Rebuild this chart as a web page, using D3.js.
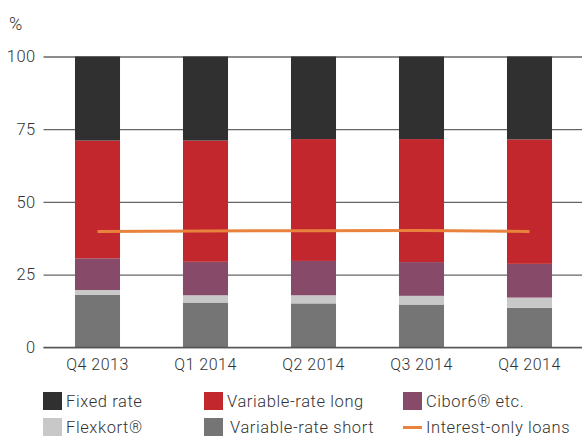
<!DOCTYPE html>
<html>
<head>
<meta charset="utf-8">
<script src="https://cdn.jsdelivr.net/npm/d3@7"></script>
<style>
  html, body { margin: 0; padding: 0; background: #fff; }
  svg text { font-family: Roboto, "Liberation Sans", sans-serif; font-weight: 300; fill: #333; }
</style>
</head>
<body>
<svg id="chart" width="582" height="443"></svg>
<script>
// Quarters on the x axis
const quarters = ["Q4 2013", "Q1 2014", "Q2 2014", "Q3 2014", "Q4 2014"];

// Loan type shares (% of total), stacked bottom to top
const variableShort = [18.0, 15.4, 15.1, 14.7, 13.6];
const flexkort      = [1.7, 2.5, 2.8, 3.0, 3.5];
const cibor         = [10.9, 11.5, 11.8, 11.6, 11.6];
const variableLong  = [40.5, 41.7, 41.9, 42.3, 42.8];
const fixedRate     = [28.9, 28.9, 28.4, 28.4, 28.5];

// Share of interest-only loans (%)
const interestOnly  = [39.8, 40.0, 40.1, 40.2, 39.8];

const yTicks = [0, 25, 50, 75, 100];

const seriesDefs = [
  { key: "variableShort", name: "Variable-rate short", values: variableShort, color: "#757575" },
  { key: "flexkort",      name: "Flexkort®",           values: flexkort,      color: "#c8c8c8" },
  { key: "cibor",         name: "Cibor6® etc.",        values: cibor,         color: "#874a68" },
  { key: "variableLong",  name: "Variable-rate long",  values: variableLong,  color: "#c1272d" },
  { key: "fixedRate",     name: "Fixed rate",          values: fixedRate,     color: "#303030" }
];

const rows = quarters.map((q, i) => {
  const r = { quarter: q };
  seriesDefs.forEach(s => { r[s.key] = s.values[i]; });
  return r;
});

const svg = d3.select("#chart");
const plotLeft = 43.5, plotRight = 583.5, plotTop = 56.5, plotBottom = 347.3;

const x = d3.scaleBand().domain(quarters).range([plotLeft, plotRight])
  .paddingInner(0.583).paddingOuter(0.2915);
const y = d3.scaleLinear().domain([0, 100]).range([plotBottom, plotTop]);

// Gridlines and y tick labels
const yAxis = svg.append("g")
  .attr("transform", `translate(${plotLeft},0)`)
  .call(d3.axisLeft(y).tickValues(yTicks).tickSize(-(582 - plotLeft)).tickPadding(8));
yAxis.select(".domain").remove();
yAxis.selectAll(".tick line").attr("stroke", "#666").attr("stroke-width", 1.3);
yAxis.selectAll(".tick text").style("font-size", "16.5px").style("letter-spacing", "0.4px").attr("fill", "#333");

svg.append("text").attr("x", 9).attr("y", 30).style("font-size", "18px").text("%");

// Stacked bars
const stack = d3.stack().keys(seriesDefs.map(s => s.key));
const layers = stack(rows);
svg.append("g").selectAll("g")
  .data(layers)
  .join("g")
  .attr("fill", (d, i) => seriesDefs[i].color)
  .selectAll("rect")
  .data(d => d)
  .join("rect")
  .attr("x", d => x(d.data.quarter))
  .attr("width", x.bandwidth())
  .attr("y", d => y(d[1]))
  .attr("height", d => y(d[0]) - y(d[1]));

// Baseline redrawn over the bars
svg.append("line")
  .attr("x1", plotLeft).attr("x2", 582)
  .attr("y1", y(0)).attr("y2", y(0))
  .attr("stroke", "#555").attr("stroke-width", 1.3);

// X axis labels
const xAxis = svg.append("g")
  .attr("transform", `translate(0,${y(0)})`)
  .call(d3.axisBottom(x).tickSize(0).tickPadding(11));
xAxis.select(".domain").remove();
xAxis.selectAll(".tick text").style("font-size", "16px").style("letter-spacing", "0.5px").attr("fill", "#333");

// Interest-only loans line
const line = d3.line()
  .x((d, i) => x(quarters[i]) + x.bandwidth() / 2)
  .y(d => y(d));
svg.append("path")
  .datum(interestOnly)
  .attr("fill", "none")
  .attr("stroke", "#e8823c")
  .attr("stroke-width", 3)
  .attr("d", line);

// Legend
const legendItems = [
  { name: "Fixed rate",          color: "#303030", type: "box",  col: 0, row: 0 },
  { name: "Variable-rate long",  color: "#c1272d", type: "box",  col: 1, row: 0 },
  { name: "Cibor6® etc.",        color: "#874a68", type: "box",  col: 2, row: 0 },
  { name: "Flexkort®",           color: "#c8c8c8", type: "box",  col: 0, row: 1 },
  { name: "Variable-rate short", color: "#757575", type: "box",  col: 1, row: 1 },
  { name: "Interest-only loans", color: "#e8823c", type: "line", col: 2, row: 1 }
];
const colX = [43, 204, 403];
const rowY = [392, 418];
const legend = svg.append("g");
legendItems.forEach(it => {
  const gx = colX[it.col], gy = rowY[it.row];
  if (it.type === "box") {
    legend.append("rect").attr("x", gx).attr("y", gy).attr("width", 19).attr("height", 18).attr("fill", it.color);
  } else {
    legend.append("rect").attr("x", gx).attr("y", gy + 8).attr("width", 19).attr("height", 3).attr("fill", it.color);
  }
  legend.append("text")
    .attr("x", gx + 23 + (it.col === 1 && it.row === 1 ? 3 : 0))
    .attr("y", gy + 15)
    .style("font-size", "16.5px")
    .style("letter-spacing", "0.6px")
    .text(it.name);
});
</script>
</body>
</html>
